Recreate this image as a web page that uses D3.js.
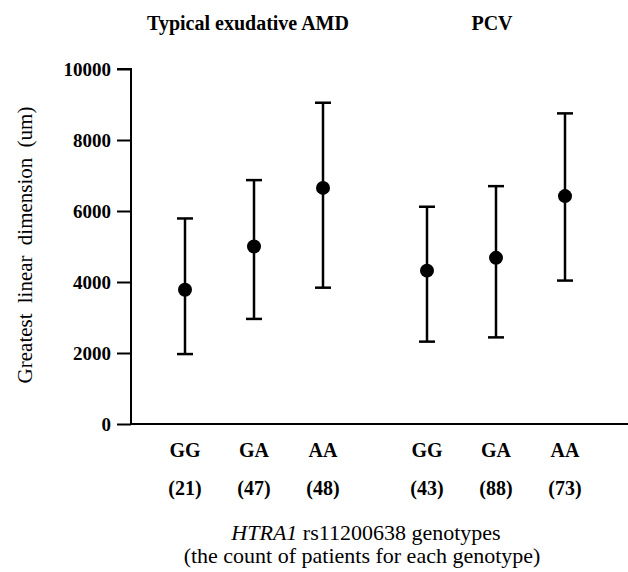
<!DOCTYPE html>
<html><head><meta charset="utf-8">
<script src="https://cdn.jsdelivr.net/npm/d3@7"></script>
<style>body{margin:0;background:#fff}text{font-family:"Liberation Serif","Times New Roman",serif;fill:#000}</style>
</head><body><svg id="c" width="628" height="572"></svg>
<script>
const groups = ["Typical exudative AMD", "PCV"];
const genotypes = ["GG", "GA", "AA"];
const counts = [[21, 47, 48], [43, 88, 73]];
const means = [[3780, 5000, 6650], [4320, 4680, 6420]];
const lowers = [[1970, 2960, 3840], [2320, 2440, 4040]];
const uppers = [[5790, 6870, 9050], [6120, 6700, 8750]];
const yTicks = [0, 2000, 4000, 6000, 8000, 10000];

const svg = d3.select("#c");
const y = d3.scaleLinear().domain([0, 10000]).range([424, 69]);
const gx = d3.scalePoint().domain(groups).range([254, 496]);
const ix = d3.scalePoint().domain(genotypes).range([-69, 69]);
const X = (g, t) => gx(g) + ix(t);

// y axis
const yAxis = svg.append("g").attr("transform", "translate(131,0)")
  .call(d3.axisLeft(y).tickValues(yTicks).tickSize(14).tickPadding(6).tickFormat(d3.format("d")));
yAxis.attr("font-family", null);
yAxis.select(".domain").attr("stroke-width", 2).attr("d", `M-14,${y(10000)}H0V${y(0)}`);
yAxis.selectAll(".tick line").attr("stroke-width", 2);
yAxis.selectAll(".tick text").style("font-size", "19px").style("font-weight", "bold").attr("dy", "0.34em");
// x axis line
svg.append("line").attr("x1", 131).attr("x2", 628).attr("y1", y(0)).attr("y2", y(0))
  .attr("stroke", "#000").attr("stroke-width", 2);

// error bars
const data = [];
groups.forEach((g, gi) => genotypes.forEach((t, ti) => data.push({
  g, t, n: counts[gi][ti], m: means[gi][ti], lo: lowers[gi][ti], hi: uppers[gi][ti]})));

const eb = svg.append("g").selectAll("g").data(data).join("g");
eb.append("line").attr("x1", d => X(d.g, d.t)).attr("x2", d => X(d.g, d.t))
  .attr("y1", d => y(d.lo)).attr("y2", d => y(d.hi)).attr("stroke", "#000").attr("stroke-width", 2.5);
eb.append("line").attr("x1", d => X(d.g, d.t) - 8).attr("x2", d => X(d.g, d.t) + 8)
  .attr("y1", d => y(d.hi)).attr("y2", d => y(d.hi)).attr("stroke", "#000").attr("stroke-width", 2.5);
eb.append("line").attr("x1", d => X(d.g, d.t) - 8).attr("x2", d => X(d.g, d.t) + 8)
  .attr("y1", d => y(d.lo)).attr("y2", d => y(d.lo)).attr("stroke", "#000").attr("stroke-width", 2.5);
eb.append("circle").attr("cx", d => X(d.g, d.t)).attr("cy", d => y(d.m)).attr("r", 7).attr("fill", "#000");

// category labels
svg.append("g").selectAll("text").data(data).join("text")
  .attr("x", d => X(d.g, d.t)).attr("y", 457).attr("text-anchor", "middle")
  .style("font-size", "20px").style("font-weight", "bold").text(d => d.t);
svg.append("g").selectAll("text").data(data).join("text")
  .attr("x", d => X(d.g, d.t)).attr("y", 495).attr("text-anchor", "middle")
  .style("font-size", "20px").style("font-weight", "bold").text(d => `(${d.n})`);

// group titles
svg.append("g").selectAll("text").data(groups).join("text")
  .attr("x", (d, i) => gx(d) - (i === 0 ? 6 : 4)).attr("y", 30).attr("text-anchor", "middle")
  .style("font-size", "20px").style("font-weight", "bold").text(d => d);

// y title
svg.append("text").attr("transform", "translate(32,245) rotate(-90)").attr("text-anchor", "middle")
  .style("font-size", "21px").style("word-spacing", "5px").text("Greatest linear dimension (um)");

// x title
const xt = svg.append("text").attr("x", 366).attr("y", 540).attr("text-anchor", "middle").style("font-size", "22px");
xt.append("tspan").style("font-style", "italic").text("HTRA1");
xt.append("tspan").text(" rs11200638 genotypes");
svg.append("text").attr("x", 362).attr("y", 563).attr("text-anchor", "middle").style("font-size", "22px")
  .text("(the count of patients for each genotype)");
</script></body></html>
